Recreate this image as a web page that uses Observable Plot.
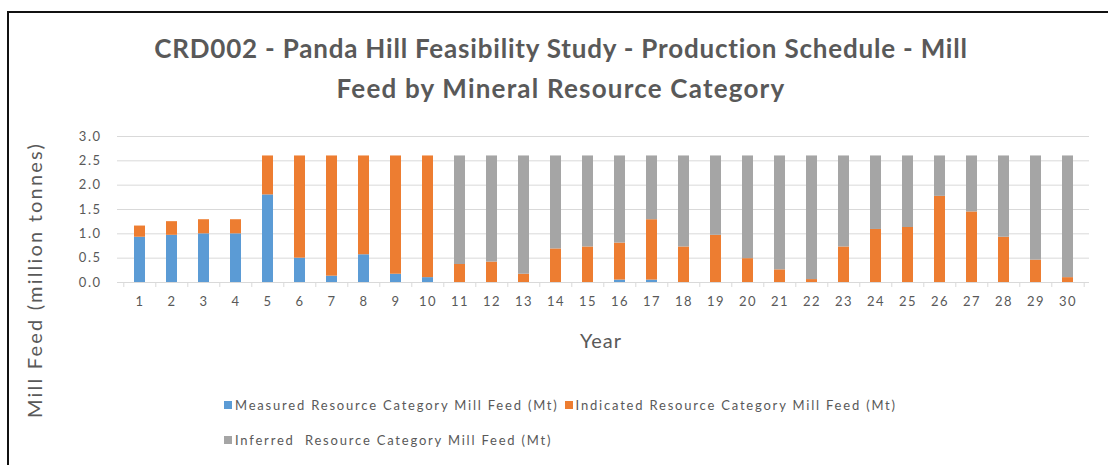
<!DOCTYPE html>
<html><head><meta charset="utf-8">
<script src="https://cdn.jsdelivr.net/npm/d3@7"></script>
<script src="https://cdn.jsdelivr.net/npm/@observablehq/plot@0.6"></script>
<style>
body{margin:0;background:#fff;}
#wrap{position:relative;width:1108px;height:465px;overflow:hidden;font-family:Lato,"Open Sans",sans-serif;color:#595959;background:#fff;}
#frame{position:absolute;left:7px;top:11px;width:1200px;height:600px;border-top:2px solid #111;border-left:2px solid #111;pointer-events:none;}
#chart{position:absolute;left:0;top:0;}
.title{position:absolute;left:7px;width:1108px;text-align:center;font-weight:bold;font-size:26px;line-height:30px;letter-spacing:0.8px;color:#595959;}
#t2{letter-spacing:1.2px;}
#ylab{position:absolute;left:34px;top:280px;transform:translate(-50%,-50%) rotate(-90deg);white-space:nowrap;font-size:20px;color:#595959;letter-spacing:2.2px;}
#xlab{position:absolute;left:601px;top:340px;transform:translate(-50%,-50%);font-size:20px;color:#595959;letter-spacing:1px;}
#legend{position:absolute;left:224px;top:396px;width:850px;}
.legrow{display:flex;align-items:center;height:18px;margin-bottom:17px;}
.leg{font-size:13px;color:#595959;white-space:pre;display:flex;align-items:center;letter-spacing:1.8px;margin-right:6px;}
.sw{display:inline-block;width:8px;height:8px;margin-right:3px;}
</style></head>
<body>
<div id="wrap">
  <div id="chart"></div>
  <div class="title" id="t1" style="top:33px"></div>
  <div class="title" id="t2" style="top:73px"></div>
  <div id="ylab"></div>
  <div id="xlab"></div>
  <div id="legend"></div>
  <div id="frame"></div>
</div>
<script>
const titleLines = ["CRD002 - Panda Hill Feasibility Study - Production Schedule - Mill", "Feed by Mineral Resource Category"];
const yAxisTitle = "Mill Feed (million tonnes)";
const xAxisTitle = "Year";
const years = [1,2,3,4,5,6,7,8,9,10,11,12,13,14,15,16,17,18,19,20,21,22,23,24,25,26,27,28,29,30];
const seriesNames = ["Measured Resource Category Mill Feed (Mt)", "Indicated Resource Category Mill Feed (Mt)", "Inferred  Resource Category Mill Feed (Mt)"];
const seriesColors = ["#5B9BD5", "#ED7D31", "#A5A5A5"];
const legendRows = [[0, 1], [2]];
const measured  = [0.93,0.97,1.00,1.00,1.80,0.50,0.13,0.57,0.17,0.10,0,0,0,0,0,0.05,0.05,0,0,0,0,0,0,0,0,0,0,0,0,0];
const indicated = [0.23,0.28,0.29,0.29,0.80,2.10,2.47,2.03,2.43,2.50,0.37,0.42,0.17,0.69,0.73,0.76,1.24,0.73,0.97,0.49,0.26,0.06,0.73,1.09,1.13,1.77,1.45,0.93,0.46,0.10];
const inferred  = [0,0,0,0,0,0,0,0,0,0,2.23,2.18,2.43,1.91,1.87,1.79,1.31,1.87,1.63,2.11,2.34,2.54,1.87,1.51,1.47,0.83,1.15,1.67,2.14,2.50];
const yTicks = [0,0.5,1.0,1.5,2.0,2.5,3.0];

const seriesValues = [measured, indicated, inferred];
const rows = [];
years.forEach((yr, i) => {
  seriesNames.forEach((s, k) => rows.push({year: yr, series: s, value: seriesValues[k][i]}));
});

const W = 1108, H = 465, ml = 117, mr = 19, mt = 136, mb = 183;
const step = (W - ml - mr) / years.length;
const font = 'Lato, "Open Sans", sans-serif';

const chart = Plot.plot({
  width: W, height: H,
  marginLeft: ml, marginRight: mr, marginTop: mt, marginBottom: mb,
  x: {type: "band", domain: years, paddingInner: 0.66, paddingOuter: 0.33, label: null},
  y: {domain: [0, 3], label: null},
  color: {domain: seriesNames, range: seriesColors},
  style: {fontFamily: font, fontSize: "13px", color: "#595959", background: "transparent", overflow: "visible", letterSpacing: "1.5px"},
  marks: [
    Plot.gridY(yTicks, {stroke: "#d9d9d9", strokeOpacity: 1}),
    Plot.barY(rows, {x: "year", y: "value", fill: "series"}),
    Plot.ruleY([0], {stroke: "#d9d9d9", strokeWidth: 1.2}),
    Plot.axisY(yTicks, {tickSize: 0, tickPadding: 16, tickFormat: d3.format(".1f"), fill: "#595959", fontSize: 13, label: null}),
    Plot.axisX({tickSize: 5, dx: -step / 2, tickFormat: () => "", stroke: "#d9d9d9", label: null}),
    Plot.axisX([years[years.length - 1]], {tickSize: 5, dx: step / 2, tickFormat: () => "", stroke: "#d9d9d9", label: null}),
    Plot.axisX({tickSize: 0, tickPadding: 14, fill: "#595959", fontSize: 13, label: null})
  ]
});
document.getElementById("chart").appendChild(chart);

document.getElementById("t1").textContent = titleLines[0];
document.getElementById("t2").textContent = titleLines[1];
document.getElementById("ylab").textContent = yAxisTitle;
document.getElementById("xlab").textContent = xAxisTitle;

const leg = document.getElementById("legend");
legendRows.forEach(rowIdx => {
  const r = document.createElement("div");
  r.className = "legrow";
  rowIdx.forEach(k => {
    const d = document.createElement("div");
    d.className = "leg";
    const sw = document.createElement("span");
    sw.className = "sw";
    sw.style.background = seriesColors[k];
    const tx = document.createElement("span");
    tx.textContent = seriesNames[k];
    d.appendChild(sw); d.appendChild(tx);
    r.appendChild(d);
  });
  leg.appendChild(r);
});
</script>
</body></html>
